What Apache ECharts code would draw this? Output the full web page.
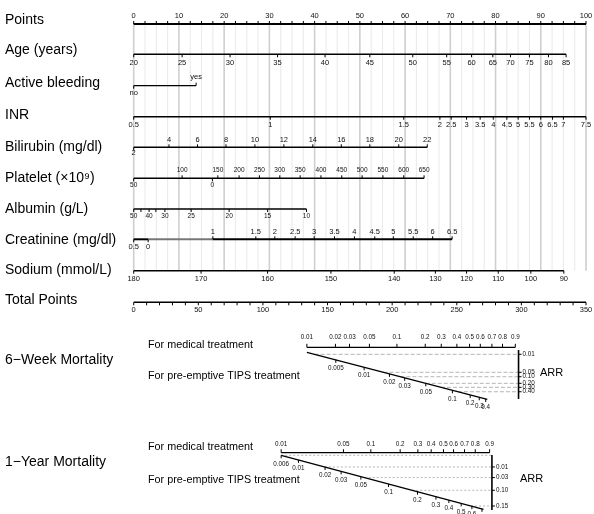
<!DOCTYPE html>
<html><head><meta charset="utf-8">
<script src="https://cdn.jsdelivr.net/npm/echarts@6/dist/echarts.min.js"></script>
<style>html,body{margin:0;padding:0;background:#fff}#c{width:594px;height:514px}</style>
</head><body><div id="c"></div>
<script>
// ================= DATA =================
// Points scale (0-100)
const pointsTicks = [0,10,20,30,40,50,60,70,80,90,100];
const pointsMinorStep = 2.5;
// Age
const ageValues = [20,25,30,35,40,45,50,55,60,65,70,75,80,85];
const agePoints = [0,10.7,21.3,31.8,42.3,52.2,61.7,69.2,74.7,79.4,83.3,87.5,91.7,95.6];
// Active bleeding
const bleedValues = ['no','yes'];
const bleedPoints = [0,13.8];
// INR
const inrValues = [0.5,1,1.5,2,2.5,3,3.5,4,4.5,5,5.5,6,6.5,7,7.5];
const inrPoints = [0,30.2,59.7,67.7,70.2,73.6,76.6,79.5,82.5,85.0,87.5,90.0,92.6,95.0,100];
// Bilirubin
const biliValues = [2,4,6,8,10,12,14,16,18,20,22];
const biliPoints = [0,7.8,14.1,20.4,26.8,33.2,39.6,45.9,52.2,58.6,64.9];
// Platelet
const pltValues = [50,0,100,150,200,250,300,350,400,450,500,550,600,650];
const pltPoints = [0,17.4,10.7,18.6,23.3,27.8,32.3,36.8,41.4,46.0,50.5,55.1,59.7,64.2];
// Albumin
const albValues = [50,45,40,35,30,25,20,15,10];
const albLabels = ['50','','40','','30','25','20','15','10'];
const albPoints = [0,1.6,3.4,4.9,6.9,12.7,21.1,29.6,38.2];
// Creatinine
const creatValues = [0.5,0,1,1.5,2,2.5,3,3.5,4,4.5,5,5.5,6,6.5];
const creatPoints = [0,3.2,17.5,27.0,31.2,35.7,39.9,44.4,48.8,53.3,57.4,61.8,66.1,70.4];
// Sodium
const sodiumValues = [180,170,160,150,140,130,120,110,100,90];
const sodiumPoints = [0,14.9,29.6,43.6,57.6,66.7,73.6,80.6,87.8,95.1];
// Total points (0-350)
const totalTicks = [0,50,100,150,200,250,300,350];
const totalMinorStep = 10;

// 6-week mortality (positions on total-points scale)
const med6wProb = [0.01,0.02,0.03,0.05,0.1,0.2,0.3,0.4,0.5,0.6,0.7,0.8,0.9];
const med6wTP   = [134.0,156.1,167.0,182.4,203.7,225.6,238.0,250.1,259.9,268.2,277.2,285.4,295.3];
const tips6wProb = [0.005,0.01,0.02,0.03,0.05,0.1,0.2,0.3,0.4];
const tips6wTP   = [156.4,178.3,197.9,209.7,226.0,246.6,260.4,267.4,272.4];
const tips6wRange = [134.0,273.6];
const arr6w   = [0.01,0.05,0.10,0.20,0.30,0.40];
const arr6wTP = [140.0,193.3,206.4,226.0,237.8,250.9];

// 1-year mortality
const med1yProb = [0.01,0.05,0.1,0.2,0.3,0.4,0.5,0.6,0.7,0.8,0.9];
const med1yTP   = [114.1,162.3,183.5,206.2,219.9,230.2,239.7,247.5,256.0,264.3,275.4];
const tips1yProb = [0.006,0.01,0.02,0.03,0.05,0.1,0.2,0.3,0.4,0.5,0.6,0.7];
const tips1yTP   = [114.1,127.5,148.1,160.5,175.8,197.2,219.6,233.9,243.9,253.4,261.7,269.5];
const tips1yRange = [114.1,270.7];
const arr1y   = [0.01,0.03,0.10,0.15];
const arr1yTP = [147.9,178.7,215.6,261.1];

// ================= LAYOUT =================
const FONT = 'Liberation Sans, Arial, Helvetica, sans-serif';
const ROW = {points:24, age:54.3, bleed:85.7, inr:116.7, bili:147.3, plt:178.3, alb:209, creat:239.3, sodium:270.7, total:302.3};
const GRID_TOP = 24, GRID_BOTTOM = 270.7;
const M6 = {axisY:347.3, y0:352.3, y1:399.4, arrX:297.8, arrTop:350, arrBottom:399};
const M1 = {axisY:452.7, y0:455.3, y1:509.3, arrX:277.2, arrTop:455, arrBottom:510};

const series = [];
const TXT = '#111';

function tickSeries(xi, items, z) {
  return {
    type:'custom', xAxisIndex:xi, yAxisIndex:0, silent:true, clip:false, z:z||5,
    data: items.map(it => [it.x, it.y]),
    renderItem: function (params, api) {
      const it = items[params.dataIndex];
      const p = api.coord([api.value(0), api.value(1)]);
      const ch = [];
      if (it.len) ch.push({type:'line', shape:{x1:p[0], y1:p[1], x2:p[0], y2:p[1] + it.dir*it.len},
        style:{stroke:'#000', lineWidth:it.lw || 1}});
      if (it.label !== '' && it.label != null) ch.push({type:'text', x:p[0] + (it.dx||0), y:p[1] + it.dy,
        style:{text:String(it.label), fontSize:it.fs, fontFamily:FONT, fill:TXT, align:it.align||'center', verticalAlign:'middle'}});
      return {type:'group', children:ch};
    }
  };
}
function lineSeries(xi, pts, color, width, type) {
  return {type:'line', xAxisIndex:xi, yAxisIndex:0, data:pts, symbol:'none', silent:true, animation:false,
    lineStyle:{color:color, width:width, type:type||'solid'}, z:4};
}
function rowScale(values, pts, labels, y, belowSet, fs, dyAbove, dyBelow, opts) {
  opts = opts || {};
  const items = values.map((v,i) => {
    const below = belowSet(v, i);
    return {x:pts[i], y:y, label: labels ? labels[i] : v, dir: below ? 1 : -1, len: opts.len || 3,
      dy: below ? dyBelow : dyAbove, fs: fs};
  });
  series.push(tickSeries(0, items));
}

// vertical guide lines
const guideVals = [];
for (let v = 0; v <= 100 + 1e-9; v += pointsMinorStep) guideVals.push(v);
series.push({
  type:'custom', xAxisIndex:0, yAxisIndex:0, silent:true, clip:false, z:1,
  data: guideVals.map(v => [v]),
  renderItem: function (params, api) {
    const v = api.value(0);
    const a = api.coord([v, GRID_TOP]), b = api.coord([v, GRID_BOTTOM]);
    const major = Math.abs(v/10 - Math.round(v/10)) < 1e-6;
    return {type:'line', shape:{x1:a[0], y1:a[1], x2:b[0], y2:b[1]},
      style:{stroke: major ? '#cfcfcf' : '#ececec', lineWidth: major ? 1.6 : 1.2}};
  }
});

// Points axis
series.push(lineSeries(0, [[0,ROW.points],[100,ROW.points]], '#000', 2));
{
  const items = [];
  for (let v = 0; v <= 100 + 1e-9; v += pointsMinorStep) {
    const lab = pointsTicks.indexOf(v) >= 0 ? v : '';
    items.push({x:v, y:ROW.points, label:lab, dir:-1, len:3, dy:-8, fs:7.5});
  }
  series.push(tickSeries(0, items));
}
// Age
series.push(lineSeries(0, [[agePoints[0],ROW.age],[agePoints[agePoints.length-1],ROW.age]], '#000', 1.6));
rowScale(ageValues, agePoints, null, ROW.age, () => true, 7.5, -8, 8.5);
// Active bleeding
series.push(lineSeries(0, [[bleedPoints[0],ROW.bleed],[bleedPoints[1],ROW.bleed]], '#000', 1.3));
rowScale(bleedValues, bleedPoints, null, ROW.bleed, (v) => v === 'no', 7.5, -8.4, 7.2);
// INR
series.push(lineSeries(0, [[inrPoints[0],ROW.inr],[inrPoints[inrPoints.length-1],ROW.inr]], '#000', 1.6));
rowScale(inrValues, inrPoints, null, ROW.inr, () => true, 7.5, -8, 7.8);
// Bilirubin
series.push(lineSeries(0, [[biliPoints[0],ROW.bili],[biliPoints[biliPoints.length-1],ROW.bili]], '#000', 1.6));
rowScale(biliValues, biliPoints, null, ROW.bili, (v) => v === 2, 7.5, -7, 6);
// Platelet
series.push(lineSeries(0, [[0,ROW.plt],[pltPoints[pltPoints.length-1],ROW.plt]], '#000', 1.6));
rowScale(pltValues, pltPoints, null, ROW.plt, (v,i) => i < 2, 6.5, -7.6, 7);
// Albumin
series.push(lineSeries(0, [[albPoints[0],ROW.alb],[albPoints[albPoints.length-1],ROW.alb]], '#000', 1.6));
rowScale(albValues, albPoints, albLabels, ROW.alb, () => true, 6.5, -7, 7.3);
// Creatinine
series.push(lineSeries(0, [[creatPoints[0],ROW.creat],[creatPoints[1],ROW.creat]], '#000', 2));
series.push(lineSeries(0, [[creatPoints[1],ROW.creat],[creatPoints[2],ROW.creat]], '#777', 2));
series.push(lineSeries(0, [[creatPoints[2],ROW.creat],[creatPoints[creatPoints.length-1],ROW.creat]], '#000', 2));
rowScale(creatValues, creatPoints, null, ROW.creat, (v,i) => i < 2, 7.5, -7.8, 7.8);
// Sodium
series.push(lineSeries(0, [[sodiumPoints[0],ROW.sodium],[sodiumPoints[sodiumPoints.length-1],ROW.sodium]], '#000', 1.6));
rowScale(sodiumValues, sodiumPoints, null, ROW.sodium, () => true, 7.5, -8, 8.3);
// Total points
series.push(lineSeries(1, [[0,ROW.total],[350,ROW.total]], '#000', 1.6));
{
  const items = [];
  for (let v = 0; v <= 350 + 1e-9; v += totalMinorStep) {
    const lab = totalTicks.indexOf(v) >= 0 ? v : '';
    items.push({x:v, y:ROW.total, label:lab, dir:1, len:3, dy:7.8, fs:7.5});
  }
  series.push(tickSeries(1, items));
}

// ===== mortality blocks =====
function mortalityBlock(M, medTP, medProb, tipsTP, tipsProb, tipsRange, arrVals, arrTP, medDy, arrTopTick, dashType) {
  const yOf = tp => M.y0 + (tp - tipsRange[0]) * (M.y1 - M.y0) / (tipsRange[1] - tipsRange[0]);
  // medical axis
  series.push(lineSeries(1, [[medTP[0], M.axisY],[medTP[medTP.length-1], M.axisY]], '#000', 1.3));
  series.push(tickSeries(1, medTP.map((tp,i) => ({x:tp, y:M.axisY, label:String(medProb[i]), dir:-1, len:3.5, dy:medDy, fs:6.3}))));
  // dashed ARR guides
  const guideList = arrTP.slice();
  if (arrTopTick) guideList.unshift(tipsRange[0]);
  series.push({
    type:'custom', xAxisIndex:1, yAxisIndex:0, silent:true, clip:false, z:2,
    data: guideList.map(tp => [tp, yOf(tp)]),
    renderItem: function (params, api) {
      const a = api.coord([api.value(0), api.value(1)]);
      const b = api.coord([M.arrX, api.value(1)]);
      return {type:'line', shape:{x1:a[0], y1:a[1], x2:b[0], y2:b[1]},
        style:{stroke:'#b5b5b5', lineWidth:1, lineDash:dashType}};
    }
  });
  // TIPS diagonal
  series.push(lineSeries(1, [[tipsRange[0], yOf(tipsRange[0])],[tipsRange[1], yOf(tipsRange[1])]], '#000', 1.3));
  series.push(tickSeries(1, tipsTP.map((tp,i) => ({x:tp, y:yOf(tp), label:String(tipsProb[i]), dir:1, len:3, dy:8.5, fs:6.3}))));
  // ARR axis
  series.push(lineSeries(1, [[M.arrX, M.arrTop],[M.arrX, M.arrBottom]], '#000', 1.6));
  series.push(tickSeries(1, arrTP.map((tp,i) => ({x:M.arrX, y:yOf(tp), label:arrVals[i].toFixed(2), dir:0, len:0, dy:0, dx:4, align:'left', fs:6.3}))));
  series.push({
    type:'custom', xAxisIndex:1, yAxisIndex:0, silent:true, clip:false, z:5,
    data: arrTP.map(tp => [M.arrX, yOf(tp)]),
    renderItem: function (params, api) {
      const a = api.coord([api.value(0), api.value(1)]);
      return {type:'line', shape:{x1:a[0], y1:a[1], x2:a[0]+3, y2:a[1]}, style:{stroke:'#000', lineWidth:1}};
    }
  });
}
mortalityBlock(M6, med6wTP, med6wProb, tips6wTP, tips6wProb, tips6wRange, arr6w, arr6wTP, -10, false, [4,2]);
mortalityBlock(M1, med1yTP, med1yProb, tips1yTP, tips1yProb, tips1yRange, arr1y, arr1yTP, -8.5, true, [2,2]);

// ===== left text labels =====
const leftLabels = [
  ['Points', 20], ['Age (years)', 50], ['Active bleeding', 83], ['INR', 115],
  ['Bilirubin (mg/dl)', 147], ['Platelet (×10⁹)', 178], ['Albumin (g/L)', 209],
  ['Creatinine (mg/dl)', 240], ['Sodium (mmol/L)', 270], ['Total Points', 300],
  ['6\u2212Week Mortality', 360], ['1\u2212Year Mortality', 462]
];
const graphic = leftLabels.map(l => ({type:'text', x:5, y:l[1], silent:true,
  style:{text:l[0], fontSize:14, fontFamily:FONT, fill:'#000', verticalAlign:'middle'}}));
[['For medical treatment', 345], ['For pre-emptive TIPS treatment', 376],
 ['For medical treatment', 447], ['For pre-emptive TIPS treatment', 480]].forEach(l => {
  graphic.push({type:'text', x:148, y:l[1], silent:true,
    style:{text:l[0], fontSize:10.8, fontFamily:FONT, fill:'#000', verticalAlign:'middle'}});
});
graphic.push({type:'text', x:540, y:373, silent:true, style:{text:'ARR', fontSize:11, fontFamily:FONT, fill:'#000', verticalAlign:'middle'}});
graphic.push({type:'text', x:520, y:479, silent:true, style:{text:'ARR', fontSize:11, fontFamily:FONT, fill:'#000', verticalAlign:'middle'}});

const chart = echarts.init(document.getElementById('c'), null, {renderer:'canvas'});
chart.setOption({
  animation:false,
  backgroundColor:'#fff',
  grid:{left:133.7, right:8, top:0, bottom:0},
  xAxis:[{type:'value', min:0, max:100, show:false}, {type:'value', min:0, max:350, show:false}],
  yAxis:[{type:'value', min:0, max:514, inverse:true, show:false}],
  graphic: graphic,
  series: series
});
</script></body></html>
